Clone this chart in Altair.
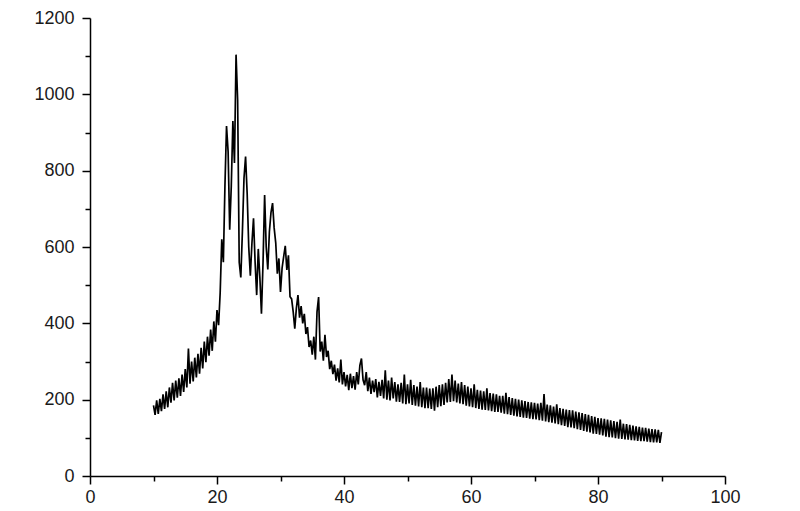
import altair as alt
import pandas as pd

# XRD-like intensity pattern (step 0.25 in 2-theta)
seg_a_start = 10.0
seg_a = [185, 160, 198, 163, 202, 170, 214, 176, 222, 180, 232, 192, 244, 198, 250, 205,
         256, 210, 266, 220, 280, 232, 334, 242, 300, 248, 310, 258, 320, 268, 336, 282,
         352, 298, 365, 315, 384, 328, 405, 352, 435]

seg_b_start = 20.25
seg_b = [395, 480, 620, 560, 760, 917, 850, 645, 760, 930, 820, 1104, 985, 560, 520, 640,
         780, 837, 740, 600, 525, 610]

seg_c_start = 25.75
seg_c = [675, 560, 474, 595, 520, 425, 560, 736, 600, 541, 640, 690, 715, 650, 611, 530,
         570, 482, 545, 575, 603, 540, 578, 470, 464, 430, 386, 440, 474, 415, 445, 400,
         425, 372, 390, 338, 355, 318, 365, 305, 430, 469, 326, 352, 302, 370, 312, 328,
         280, 302, 267, 292, 250, 282, 245, 305, 240, 272, 235, 265, 225, 268, 230, 262,
         226, 272, 240, 290, 308, 252, 238, 272, 222]

seg_d_start = 44.0
seg_d = [258, 215, 250, 220,  254, 206, 247, 210,  252, 203, 277, 200,  250, 198, 258, 203,
         246, 195, 240, 194,  244, 190, 266, 188,  240, 190, 252, 186,  238, 184, 234, 182,
         246, 180, 232, 178,  232, 178, 229, 176,  230, 171, 234, 180,  238, 183, 240, 186,
         244, 193, 254, 194,  266, 196, 250, 193,  242, 190, 246, 188,  238, 184, 234, 182,
         230, 180, 240, 178,  226, 176, 224, 174,  222, 173, 230, 172,  217, 170, 216, 168,
         214, 168, 210, 166,  210, 163, 218, 162,  207, 160, 204, 158,  202, 156, 200, 155,
         198, 153, 196, 152,  194, 150, 193, 149,  192, 148, 190, 146,  192, 145, 215, 143,
         187, 141, 185, 140,  182, 138, 188, 136,  178, 133, 176, 131,  174, 128, 173, 127,
         172, 125, 169, 123,  167, 121, 165, 118,  162, 116, 160, 114,  157, 111, 155, 110,
         152, 108, 151, 106,  150, 103, 148, 102,  146, 101, 144, 99,  142, 98, 148, 97,
         137, 96, 136, 95,  134, 94, 132, 93,  130, 92, 129, 91,  127, 91, 126, 90,
         124, 89, 123, 88,  122, 88, 121, 87,  115]

step = 0.25
x_major = [0, 20, 40, 60, 80, 100]
x_minor = [10, 30, 50, 70, 90]
y_major = [0, 200, 400, 600, 800, 1000, 1200]
y_minor = [100, 300, 500, 700, 900, 1100]

xs, ys = [], []
for start, vals in [(seg_a_start, seg_a), (seg_b_start, seg_b), (seg_c_start, seg_c), (seg_d_start, seg_d)]:
    for i, v in enumerate(vals):
        xs.append(round(start + step * i, 2))
        ys.append(v)

df = pd.DataFrame({"x": xs, "y": ys})

font = "Liberation Sans"
common = dict(grid=False, title=None, domainColor="black", tickColor="black",
              labelFont=font, labelFontSize=18, labelColor="#1a1a1a", format="d")

xs_scale = alt.Scale(domain=[0, 100], nice=False, zero=False)
ys_scale = alt.Scale(domain=[0, 1200], nice=False)

main = alt.Chart(df).mark_line(color="black", strokeWidth=1.7).encode(
    x=alt.X("x:Q", scale=xs_scale,
            axis=alt.Axis(values=x_major, orient="bottom", tickSize=8, tickWidth=1.5,
                          domainWidth=1.5, labelPadding=4, labelFlush=False, **common)),
    y=alt.Y("y:Q", scale=ys_scale,
            axis=alt.Axis(values=y_major, orient="left", tickSize=8, tickWidth=1.5,
                          domainWidth=1.5, labelPadding=8, labelFlush=False, **common)),
    order="x:Q",
)

minor = alt.Chart(df).mark_point(opacity=0).encode(
    x=alt.X("x:Q", scale=xs_scale,
            axis=alt.Axis(values=x_minor, orient="bottom", tickSize=5, tickWidth=1.5,
                          labels=False, domain=False, grid=False, title=None, tickColor="black")),
    y=alt.Y("y:Q", scale=ys_scale,
            axis=alt.Axis(values=y_minor, orient="left", tickSize=5, tickWidth=1.5,
                          labels=False, domain=False, grid=False, title=None, tickColor="black")),
)

chart = alt.layer(main, minor).resolve_axis(x="independent", y="independent").properties(
    width=635, height=458,
    autosize=alt.AutoSizeParams(type="none"),
    padding={"left": 82, "top": 10, "right": 60, "bottom": 30},
    background="white",
).configure_view(stroke=None)

chart.save("out.html", embed_options={"renderer": "svg", "actions": False})
